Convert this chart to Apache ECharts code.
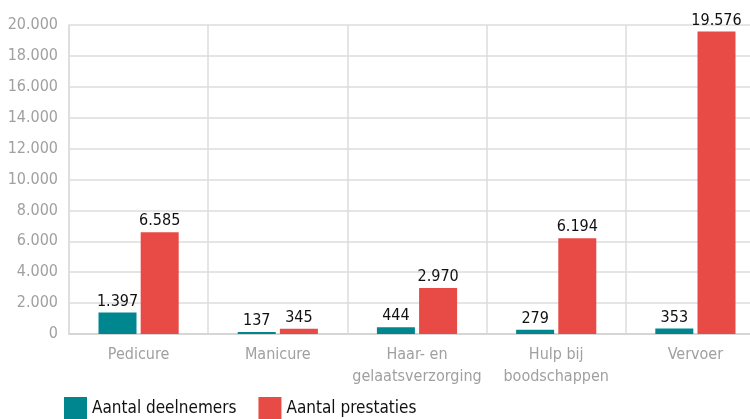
<!DOCTYPE html>
<html lang="nl">
<head>
  <meta charset="UTF-8">
  <title>Deelnemers en prestaties</title>
  <style>
    html, body { margin: 0; padding: 0; overflow: hidden; background: #fff; }
    #chart { width: 750px; height: 419px; }
  </style>
</head>
<body>
  <div id="chart"></div>
  <script src="https://cdn.jsdelivr.net/npm/echarts@6/dist/echarts.min.js"></script>
  <script>
    var categories = ['Pedicure', 'Manicure', 'Haar- en\ngelaatsverzorging', 'Hulp bij\nboodschappen', 'Vervoer'];
    var deelnemers = [1397, 137, 444, 279, 353];
    var prestaties = [6585, 345, 2970, 6194, 19576];

    var font = "'Liberation Sans Narrow', 'DejaVu Sans Condensed', sans-serif";

    // punt als duizendtal-scheiding
    function fmt(v) {
      return String(v).replace(/\B(?=(\d{3})+(?!\d))/g, '.');
    }

    var chart = echarts.init(document.getElementById('chart'));
    chart.setOption({
      animation: false,
      textStyle: { fontFamily: font },
      grid: { left: 69, top: 25, width: 696, height: 309, outerBoundsMode: 'none' },
      legend: {
        left: 59, top: 392,
        itemWidth: 23, itemHeight: 23, itemGap: 22,
        icon: 'rect',
        textStyle: { fontFamily: font, fontSize: 17, color: '#111' },
        data: ['Aantal deelnemers', 'Aantal prestaties']
      },
      xAxis: {
        type: 'category',
        data: categories,
        axisLine: { lineStyle: { color: '#d6d6d6', width: 2 } },
        axisTick: { show: false },
        splitLine: { show: true, interval: 0, lineStyle: { color: '#dcdcdc', width: 1.5 } },
        axisLabel: { interval: 0, color: '#a0a0a0', fontSize: 16, lineHeight: 22, margin: 10, fontFamily: font }
      },
      yAxis: {
        type: 'value',
        min: 0, max: 20000, interval: 2000,
        axisLine: { show: true, lineStyle: { color: '#dcdcdc', width: 1.5 } },
        axisTick: { show: false },
        splitLine: { lineStyle: { color: '#dcdcdc', width: 1.5 } },
        axisLabel: { color: '#a0a0a0', fontSize: 16, margin: 11, fontFamily: font, formatter: fmt }
      },
      series: [
        {
          name: 'Aantal deelnemers',
          type: 'bar',
          data: deelnemers,
          barWidth: 38,
          barGap: '11%',
          itemStyle: { color: '#00868f' },
          label: { show: true, position: 'top', distance: 3, color: '#111', fontSize: 16, fontFamily: font, formatter: function (p) { return fmt(p.value); } }
        },
        {
          name: 'Aantal prestaties',
          type: 'bar',
          data: prestaties,
          barWidth: 38,
          itemStyle: { color: '#e84a45' },
          label: { show: true, position: 'top', distance: 3, color: '#111', fontSize: 16, fontFamily: font, formatter: function (p) { return fmt(p.value); } }
        }
      ]
    });
  </script>
</body>
</html>
